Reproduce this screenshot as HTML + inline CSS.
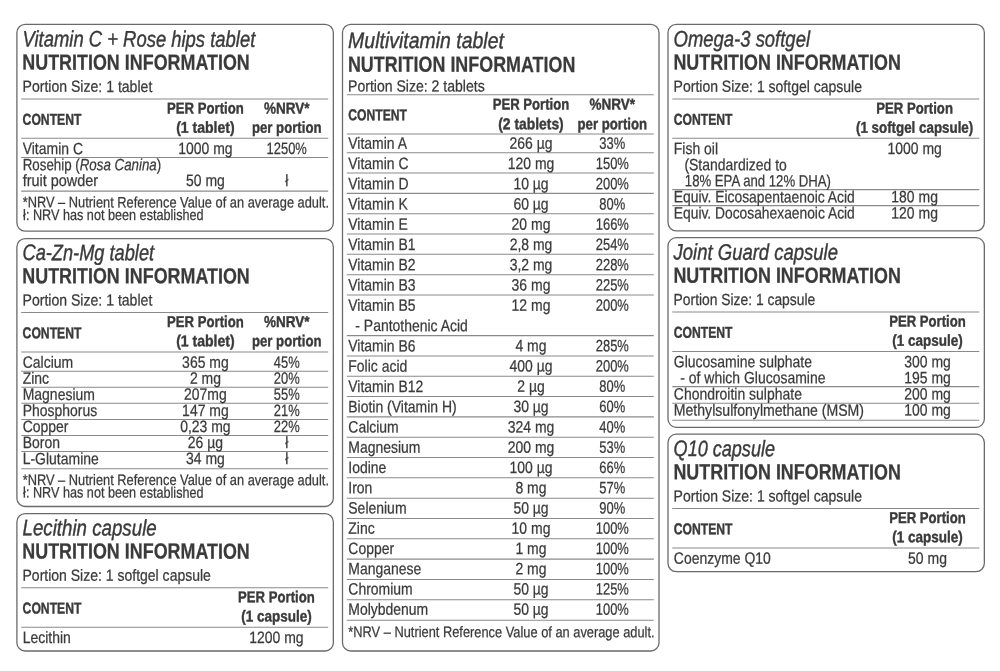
<!DOCTYPE html><html><head><meta charset="utf-8"><title>Nutrition information</title><style>html,body{margin:0;padding:0;background:#fff;overflow:hidden}svg{display:block;will-change:transform}
text{text-rendering:geometricPrecision;font-family:"Liberation Sans",sans-serif;fill:#3a3a3a;stroke:#3a3a3a;stroke-width:0.25px;white-space:pre}
.title{font-size:22.4px;font-weight:400;font-style:italic;stroke-width:0.4px}
.nut{font-size:22.0px;font-weight:700;font-style:normal}
.portion{font-size:16.1px;font-weight:400;font-style:normal}
.hdr{font-size:15.8px;font-weight:700;font-style:normal;stroke-width:0.4px}
.body{font-size:16.4px;font-weight:400;font-style:normal}
.pct{font-size:16.4px;font-weight:400;font-style:normal}
.foot{font-size:15.2px;font-weight:400;font-style:normal}
</style></head><body>
<svg width="1000" height="671" viewBox="0 0 1000 671">
<rect width="1000" height="671" fill="#fff"/>
<g fill="none" stroke="#6a6a6a" stroke-width="1.3">
<rect x="16.90" y="24.40" width="316.45" height="206.70" rx="8.3" ry="8.3"/>
<rect x="16.90" y="238.55" width="316.45" height="267.95" rx="8.3" ry="8.3"/>
<rect x="16.90" y="513.55" width="316.45" height="137.45" rx="8.3" ry="8.3"/>
<rect x="342.50" y="24.40" width="316.50" height="626.60" rx="8.3" ry="8.3"/>
<rect x="668.00" y="24.40" width="316.35" height="206.45" rx="8.3" ry="8.3"/>
<rect x="668.00" y="237.70" width="316.35" height="189.60" rx="8.3" ry="8.3"/>
<rect x="668.00" y="434.20" width="316.35" height="137.40" rx="8.3" ry="8.3"/>
</g>
<g stroke="#8a8a8a" stroke-width="1.05">
<line x1="21.20" y1="98.90" x2="328.20" y2="98.90"/>
<line x1="21.20" y1="138.30" x2="328.20" y2="138.30"/>
<line x1="21.20" y1="157.50" x2="328.20" y2="157.50"/>
<line x1="21.20" y1="191.10" x2="328.20" y2="191.10"/>
<line x1="21.20" y1="312.50" x2="328.20" y2="312.50"/>
<line x1="21.20" y1="351.90" x2="328.20" y2="351.90"/>
<line x1="21.20" y1="371.20" x2="328.20" y2="371.20"/>
<line x1="21.20" y1="387.27" x2="328.20" y2="387.27"/>
<line x1="21.20" y1="403.34" x2="328.20" y2="403.34"/>
<line x1="21.20" y1="419.41" x2="328.20" y2="419.41"/>
<line x1="21.20" y1="435.48" x2="328.20" y2="435.48"/>
<line x1="21.20" y1="451.55" x2="328.20" y2="451.55"/>
<line x1="21.20" y1="468.70" x2="328.20" y2="468.70"/>
<line x1="21.20" y1="587.75" x2="328.20" y2="587.75"/>
<line x1="21.20" y1="627.15" x2="328.20" y2="627.15"/>
<line x1="346.80" y1="94.75" x2="653.80" y2="94.75"/>
<line x1="346.80" y1="134.00" x2="653.80" y2="134.00"/>
<line x1="346.80" y1="152.75" x2="653.80" y2="152.75"/>
<line x1="346.80" y1="173.07" x2="653.80" y2="173.07"/>
<line x1="346.80" y1="193.39" x2="653.80" y2="193.39"/>
<line x1="346.80" y1="213.70" x2="653.80" y2="213.70"/>
<line x1="346.80" y1="234.02" x2="653.80" y2="234.02"/>
<line x1="346.80" y1="254.34" x2="653.80" y2="254.34"/>
<line x1="346.80" y1="274.66" x2="653.80" y2="274.66"/>
<line x1="346.80" y1="294.98" x2="653.80" y2="294.98"/>
<line x1="346.80" y1="335.61" x2="653.80" y2="335.61"/>
<line x1="346.80" y1="355.93" x2="653.80" y2="355.93"/>
<line x1="346.80" y1="376.25" x2="653.80" y2="376.25"/>
<line x1="346.80" y1="396.57" x2="653.80" y2="396.57"/>
<line x1="346.80" y1="416.88" x2="653.80" y2="416.88"/>
<line x1="346.80" y1="437.20" x2="653.80" y2="437.20"/>
<line x1="346.80" y1="457.52" x2="653.80" y2="457.52"/>
<line x1="346.80" y1="477.84" x2="653.80" y2="477.84"/>
<line x1="346.80" y1="498.16" x2="653.80" y2="498.16"/>
<line x1="346.80" y1="518.47" x2="653.80" y2="518.47"/>
<line x1="346.80" y1="538.79" x2="653.80" y2="538.79"/>
<line x1="346.80" y1="559.11" x2="653.80" y2="559.11"/>
<line x1="346.80" y1="579.43" x2="653.80" y2="579.43"/>
<line x1="346.80" y1="599.75" x2="653.80" y2="599.75"/>
<line x1="346.80" y1="620.30" x2="653.80" y2="620.30"/>
<line x1="672.30" y1="98.90" x2="979.30" y2="98.90"/>
<line x1="672.30" y1="138.30" x2="979.30" y2="138.30"/>
<line x1="672.30" y1="189.60" x2="979.30" y2="189.60"/>
<line x1="672.30" y1="205.60" x2="979.30" y2="205.60"/>
<line x1="672.30" y1="312.00" x2="979.30" y2="312.00"/>
<line x1="672.30" y1="351.40" x2="979.30" y2="351.40"/>
<line x1="672.30" y1="386.60" x2="979.30" y2="386.60"/>
<line x1="672.30" y1="403.20" x2="979.30" y2="403.20"/>
<line x1="672.30" y1="420.20" x2="979.30" y2="420.20"/>
<line x1="672.30" y1="508.50" x2="979.30" y2="508.50"/>
<line x1="672.30" y1="547.90" x2="979.30" y2="547.90"/>
</g>
<text id="t0" class="title" text-anchor="start" transform="translate(22.50 46.50) scale(0.8234 1) skewY(0.05)">Vitamin C + Rose hips tablet</text>
<text id="t1" class="nut" text-anchor="start" transform="translate(22.30 69.60) scale(0.8141 1) skewY(0.05)">NUTRITION INFORMATION</text>
<text id="t2" class="portion" text-anchor="start" transform="translate(22.50 91.80) scale(0.8740 1) skewY(0.05)">Portion Size: 1 tablet</text>
<text id="t3" class="hdr" text-anchor="middle" transform="translate(205.40 113.50) scale(0.8312 1) skewY(0.05)">PER Portion</text>
<text id="t4" class="hdr" text-anchor="start" transform="translate(22.60 124.70) scale(0.7700 1) skewY(0.05)">CONTENT</text>
<text id="t5" class="hdr" text-anchor="middle" transform="translate(205.40 132.70) scale(0.8887 1) skewY(0.05)">(1 tablet)</text>
<text id="t6" class="hdr" text-anchor="middle" transform="translate(286.70 113.50) scale(0.8542 1) skewY(0.05)">%NRV*</text>
<text id="t7" class="hdr" text-anchor="middle" transform="translate(286.70 132.70) scale(0.8348 1) skewY(0.05)">per portion</text>
<text id="t8" class="body" text-anchor="start" transform="translate(22.70 154.10) scale(0.8520 1) skewY(0.05)">Vitamin C</text>
<text id="t9" class="body" text-anchor="middle" transform="translate(205.40 154.10) scale(0.8520 1) skewY(0.05)">1000 mg</text>
<text id="t10" class="pct" text-anchor="middle" transform="translate(286.70 154.10) scale(0.7900 1) skewY(0.05)">1250%</text>
<text id="t11" class="body" text-anchor="start" transform="translate(22.70 170.20) scale(0.8128 1) skewY(0.05)">Rosehip (<tspan font-style="italic">Rosa Canina</tspan>)</text>
<text id="t12" class="body" text-anchor="start" transform="translate(22.70 186.00) scale(0.8804 1) skewY(0.05)">fruit powder</text>
<text id="t13" class="body" text-anchor="middle" transform="translate(205.40 186.00) scale(0.8520 1) skewY(0.05)">50 mg</text>
<text id="t14" class="body" text-anchor="middle" transform="translate(286.70 186.00) scale(0.8520 1) skewY(0.05)">ł</text>
<text id="t15" class="foot" text-anchor="start" transform="translate(22.70 207.30) scale(0.8450 1) skewY(0.05)">*NRV – Nutrient Reference Value of an average adult.</text>
<text id="t16" class="foot" text-anchor="start" transform="translate(23.10 219.90) scale(0.8330 1) skewY(0.05)">ł: NRV has not been established</text>
<text id="t17" class="title" text-anchor="start" transform="translate(22.50 260.10) scale(0.8135 1) skewY(0.05)">Ca-Zn-Mg tablet</text>
<text id="t18" class="nut" text-anchor="start" transform="translate(22.30 283.20) scale(0.8141 1) skewY(0.05)">NUTRITION INFORMATION</text>
<text id="t19" class="portion" text-anchor="start" transform="translate(22.50 305.40) scale(0.8740 1) skewY(0.05)">Portion Size: 1 tablet</text>
<text id="t20" class="hdr" text-anchor="middle" transform="translate(205.40 327.10) scale(0.8312 1) skewY(0.05)">PER Portion</text>
<text id="t21" class="hdr" text-anchor="start" transform="translate(22.60 338.30) scale(0.7700 1) skewY(0.05)">CONTENT</text>
<text id="t22" class="hdr" text-anchor="middle" transform="translate(205.40 346.30) scale(0.8887 1) skewY(0.05)">(1 tablet)</text>
<text id="t23" class="hdr" text-anchor="middle" transform="translate(286.70 327.10) scale(0.8542 1) skewY(0.05)">%NRV*</text>
<text id="t24" class="hdr" text-anchor="middle" transform="translate(286.70 346.30) scale(0.8348 1) skewY(0.05)">per portion</text>
<text id="t25" class="body" text-anchor="start" transform="translate(22.70 367.70) scale(0.8520 1) skewY(0.05)">Calcium</text>
<text id="t26" class="body" text-anchor="middle" transform="translate(205.40 367.70) scale(0.8520 1) skewY(0.05)">365 mg</text>
<text id="t27" class="pct" text-anchor="middle" transform="translate(286.70 367.70) scale(0.7900 1) skewY(0.05)">45%</text>
<text id="t28" class="body" text-anchor="start" transform="translate(22.70 383.77) scale(0.8520 1) skewY(0.05)">Zinc</text>
<text id="t29" class="body" text-anchor="middle" transform="translate(205.40 383.77) scale(0.8520 1) skewY(0.05)">2 mg</text>
<text id="t30" class="pct" text-anchor="middle" transform="translate(286.70 383.77) scale(0.7900 1) skewY(0.05)">20%</text>
<text id="t31" class="body" text-anchor="start" transform="translate(22.70 399.84) scale(0.8520 1) skewY(0.05)">Magnesium</text>
<text id="t32" class="body" text-anchor="middle" transform="translate(205.40 399.84) scale(0.8520 1) skewY(0.05)">207mg</text>
<text id="t33" class="pct" text-anchor="middle" transform="translate(286.70 399.84) scale(0.7900 1) skewY(0.05)">55%</text>
<text id="t34" class="body" text-anchor="start" transform="translate(22.70 415.91) scale(0.8520 1) skewY(0.05)">Phosphorus</text>
<text id="t35" class="body" text-anchor="middle" transform="translate(205.40 415.91) scale(0.8520 1) skewY(0.05)">147 mg</text>
<text id="t36" class="pct" text-anchor="middle" transform="translate(286.70 415.91) scale(0.7900 1) skewY(0.05)">21%</text>
<text id="t37" class="body" text-anchor="start" transform="translate(22.70 431.98) scale(0.8520 1) skewY(0.05)">Copper</text>
<text id="t38" class="body" text-anchor="middle" transform="translate(205.40 431.98) scale(0.8520 1) skewY(0.05)">0,23 mg</text>
<text id="t39" class="pct" text-anchor="middle" transform="translate(286.70 431.98) scale(0.7900 1) skewY(0.05)">22%</text>
<text id="t40" class="body" text-anchor="start" transform="translate(22.70 448.05) scale(0.8520 1) skewY(0.05)">Boron</text>
<text id="t41" class="body" text-anchor="middle" transform="translate(205.40 448.05) scale(0.8520 1) skewY(0.05)">26 µg</text>
<text id="t42" class="body" text-anchor="middle" transform="translate(286.70 448.05) scale(0.8520 1) skewY(0.05)">ł</text>
<text id="t43" class="body" text-anchor="start" transform="translate(22.70 464.12) scale(0.8520 1) skewY(0.05)">L-Glutamine</text>
<text id="t44" class="body" text-anchor="middle" transform="translate(205.40 464.12) scale(0.8520 1) skewY(0.05)">34 mg</text>
<text id="t45" class="body" text-anchor="middle" transform="translate(286.70 464.12) scale(0.8520 1) skewY(0.05)">ł</text>
<text id="t46" class="foot" text-anchor="start" transform="translate(22.70 484.90) scale(0.8450 1) skewY(0.05)">*NRV – Nutrient Reference Value of an average adult.</text>
<text id="t47" class="foot" text-anchor="start" transform="translate(23.10 497.50) scale(0.8330 1) skewY(0.05)">ł: NRV has not been established</text>
<text id="t48" class="title" text-anchor="start" transform="translate(22.50 535.35) scale(0.8357 1) skewY(0.05)">Lecithin capsule</text>
<text id="t49" class="nut" text-anchor="start" transform="translate(22.30 558.45) scale(0.8141 1) skewY(0.05)">NUTRITION INFORMATION</text>
<text id="t50" class="portion" text-anchor="start" transform="translate(22.50 580.65) scale(0.8702 1) skewY(0.05)">Portion Size: 1 softgel capsule</text>
<text id="t51" class="hdr" text-anchor="middle" transform="translate(276.40 602.35) scale(0.8312 1) skewY(0.05)">PER Portion</text>
<text id="t52" class="hdr" text-anchor="start" transform="translate(22.60 613.55) scale(0.7700 1) skewY(0.05)">CONTENT</text>
<text id="t53" class="hdr" text-anchor="middle" transform="translate(276.40 621.55) scale(0.8542 1) skewY(0.05)">(1 capsule)</text>
<text id="t54" class="body" text-anchor="start" transform="translate(22.70 642.95) scale(0.8520 1) skewY(0.05)">Lecithin</text>
<text id="t55" class="body" text-anchor="middle" transform="translate(276.40 642.95) scale(0.8520 1) skewY(0.05)">1200 mg</text>
<text id="t56" class="title" text-anchor="start" transform="translate(348.10 48.00) scale(0.8694 1) skewY(0.05)">Multivitamin tablet</text>
<text id="t57" class="nut" text-anchor="start" transform="translate(347.90 71.70) scale(0.8141 1) skewY(0.05)">NUTRITION INFORMATION</text>
<text id="t58" class="portion" text-anchor="start" transform="translate(348.10 91.40) scale(0.8725 1) skewY(0.05)">Portion Size: 2 tablets</text>
<text id="t59" class="hdr" text-anchor="middle" transform="translate(531.00 109.50) scale(0.8312 1) skewY(0.05)">PER Portion</text>
<text id="t60" class="hdr" text-anchor="start" transform="translate(348.20 120.30) scale(0.7700 1) skewY(0.05)">CONTENT</text>
<text id="t61" class="hdr" text-anchor="middle" transform="translate(531.00 129.20) scale(0.8777 1) skewY(0.05)">(2 tablets)</text>
<text id="t62" class="hdr" text-anchor="middle" transform="translate(612.30 109.50) scale(0.8542 1) skewY(0.05)">%NRV*</text>
<text id="t63" class="hdr" text-anchor="middle" transform="translate(612.30 129.20) scale(0.8348 1) skewY(0.05)">per portion</text>
<text id="t64" class="body" text-anchor="start" transform="translate(348.30 148.70) scale(0.8520 1) skewY(0.05)">Vitamin A</text>
<text id="t65" class="body" text-anchor="middle" transform="translate(531.00 148.70) scale(0.8520 1) skewY(0.05)">266 µg</text>
<text id="t66" class="pct" text-anchor="middle" transform="translate(612.30 148.70) scale(0.7900 1) skewY(0.05)">33%</text>
<text id="t67" class="body" text-anchor="start" transform="translate(348.30 168.96) scale(0.8520 1) skewY(0.05)">Vitamin C</text>
<text id="t68" class="body" text-anchor="middle" transform="translate(531.00 168.96) scale(0.8520 1) skewY(0.05)">120 mg</text>
<text id="t69" class="pct" text-anchor="middle" transform="translate(612.30 168.96) scale(0.7900 1) skewY(0.05)">150%</text>
<text id="t70" class="body" text-anchor="start" transform="translate(348.30 189.23) scale(0.8520 1) skewY(0.05)">Vitamin D</text>
<text id="t71" class="body" text-anchor="middle" transform="translate(531.00 189.23) scale(0.8520 1) skewY(0.05)">10 µg</text>
<text id="t72" class="pct" text-anchor="middle" transform="translate(612.30 189.23) scale(0.7900 1) skewY(0.05)">200%</text>
<text id="t73" class="body" text-anchor="start" transform="translate(348.30 209.49) scale(0.8520 1) skewY(0.05)">Vitamin K</text>
<text id="t74" class="body" text-anchor="middle" transform="translate(531.00 209.49) scale(0.8520 1) skewY(0.05)">60 µg</text>
<text id="t75" class="pct" text-anchor="middle" transform="translate(612.30 209.49) scale(0.7900 1) skewY(0.05)">80%</text>
<text id="t76" class="body" text-anchor="start" transform="translate(348.30 229.76) scale(0.8520 1) skewY(0.05)">Vitamin E</text>
<text id="t77" class="body" text-anchor="middle" transform="translate(531.00 229.76) scale(0.8520 1) skewY(0.05)">20 mg</text>
<text id="t78" class="pct" text-anchor="middle" transform="translate(612.30 229.76) scale(0.7900 1) skewY(0.05)">166%</text>
<text id="t79" class="body" text-anchor="start" transform="translate(348.30 250.02) scale(0.8520 1) skewY(0.05)">Vitamin B1</text>
<text id="t80" class="body" text-anchor="middle" transform="translate(531.00 250.02) scale(0.8520 1) skewY(0.05)">2,8 mg</text>
<text id="t81" class="pct" text-anchor="middle" transform="translate(612.30 250.02) scale(0.7900 1) skewY(0.05)">254%</text>
<text id="t82" class="body" text-anchor="start" transform="translate(348.30 270.28) scale(0.8520 1) skewY(0.05)">Vitamin B2</text>
<text id="t83" class="body" text-anchor="middle" transform="translate(531.00 270.28) scale(0.8520 1) skewY(0.05)">3,2 mg</text>
<text id="t84" class="pct" text-anchor="middle" transform="translate(612.30 270.28) scale(0.7900 1) skewY(0.05)">228%</text>
<text id="t85" class="body" text-anchor="start" transform="translate(348.30 290.55) scale(0.8520 1) skewY(0.05)">Vitamin B3</text>
<text id="t86" class="body" text-anchor="middle" transform="translate(531.00 290.55) scale(0.8520 1) skewY(0.05)">36 mg</text>
<text id="t87" class="pct" text-anchor="middle" transform="translate(612.30 290.55) scale(0.7900 1) skewY(0.05)">225%</text>
<text id="t88" class="body" text-anchor="start" transform="translate(348.30 310.81) scale(0.8520 1) skewY(0.05)">Vitamin B5</text>
<text id="t89" class="body" text-anchor="middle" transform="translate(531.00 310.81) scale(0.8520 1) skewY(0.05)">12 mg</text>
<text id="t90" class="pct" text-anchor="middle" transform="translate(612.30 310.81) scale(0.7900 1) skewY(0.05)">200%</text>
<text id="t91" class="body" text-anchor="start" transform="translate(355.30 331.08) scale(0.8520 1) skewY(0.05)">- Pantothenic Acid</text>
<text id="t92" class="body" text-anchor="start" transform="translate(348.30 351.34) scale(0.8520 1) skewY(0.05)">Vitamin B6</text>
<text id="t93" class="body" text-anchor="middle" transform="translate(531.00 351.34) scale(0.8520 1) skewY(0.05)">4 mg</text>
<text id="t94" class="pct" text-anchor="middle" transform="translate(612.30 351.34) scale(0.7900 1) skewY(0.05)">285%</text>
<text id="t95" class="body" text-anchor="start" transform="translate(348.30 371.60) scale(0.8520 1) skewY(0.05)">Folic acid</text>
<text id="t96" class="body" text-anchor="middle" transform="translate(531.00 371.60) scale(0.8520 1) skewY(0.05)">400 µg</text>
<text id="t97" class="pct" text-anchor="middle" transform="translate(612.30 371.60) scale(0.7900 1) skewY(0.05)">200%</text>
<text id="t98" class="body" text-anchor="start" transform="translate(348.30 391.87) scale(0.8520 1) skewY(0.05)">Vitamin B12</text>
<text id="t99" class="body" text-anchor="middle" transform="translate(531.00 391.87) scale(0.8520 1) skewY(0.05)">2 µg</text>
<text id="t100" class="pct" text-anchor="middle" transform="translate(612.30 391.87) scale(0.7900 1) skewY(0.05)">80%</text>
<text id="t101" class="body" text-anchor="start" transform="translate(348.30 412.13) scale(0.8520 1) skewY(0.05)">Biotin (Vitamin H)</text>
<text id="t102" class="body" text-anchor="middle" transform="translate(531.00 412.13) scale(0.8520 1) skewY(0.05)">30 µg</text>
<text id="t103" class="pct" text-anchor="middle" transform="translate(612.30 412.13) scale(0.7900 1) skewY(0.05)">60%</text>
<text id="t104" class="body" text-anchor="start" transform="translate(348.30 432.40) scale(0.8520 1) skewY(0.05)">Calcium</text>
<text id="t105" class="body" text-anchor="middle" transform="translate(531.00 432.40) scale(0.8520 1) skewY(0.05)">324 mg</text>
<text id="t106" class="pct" text-anchor="middle" transform="translate(612.30 432.40) scale(0.7900 1) skewY(0.05)">40%</text>
<text id="t107" class="body" text-anchor="start" transform="translate(348.30 452.66) scale(0.8520 1) skewY(0.05)">Magnesium</text>
<text id="t108" class="body" text-anchor="middle" transform="translate(531.00 452.66) scale(0.8520 1) skewY(0.05)">200 mg</text>
<text id="t109" class="pct" text-anchor="middle" transform="translate(612.30 452.66) scale(0.7900 1) skewY(0.05)">53%</text>
<text id="t110" class="body" text-anchor="start" transform="translate(348.30 472.92) scale(0.8520 1) skewY(0.05)">Iodine</text>
<text id="t111" class="body" text-anchor="middle" transform="translate(531.00 472.92) scale(0.8520 1) skewY(0.05)">100 µg</text>
<text id="t112" class="pct" text-anchor="middle" transform="translate(612.30 472.92) scale(0.7900 1) skewY(0.05)">66%</text>
<text id="t113" class="body" text-anchor="start" transform="translate(348.30 493.19) scale(0.8520 1) skewY(0.05)">Iron</text>
<text id="t114" class="body" text-anchor="middle" transform="translate(531.00 493.19) scale(0.8520 1) skewY(0.05)">8 mg</text>
<text id="t115" class="pct" text-anchor="middle" transform="translate(612.30 493.19) scale(0.7900 1) skewY(0.05)">57%</text>
<text id="t116" class="body" text-anchor="start" transform="translate(348.30 513.45) scale(0.8520 1) skewY(0.05)">Selenium</text>
<text id="t117" class="body" text-anchor="middle" transform="translate(531.00 513.45) scale(0.8520 1) skewY(0.05)">50 µg</text>
<text id="t118" class="pct" text-anchor="middle" transform="translate(612.30 513.45) scale(0.7900 1) skewY(0.05)">90%</text>
<text id="t119" class="body" text-anchor="start" transform="translate(348.30 533.72) scale(0.8520 1) skewY(0.05)">Zinc</text>
<text id="t120" class="body" text-anchor="middle" transform="translate(531.00 533.72) scale(0.8520 1) skewY(0.05)">10 mg</text>
<text id="t121" class="pct" text-anchor="middle" transform="translate(612.30 533.72) scale(0.7900 1) skewY(0.05)">100%</text>
<text id="t122" class="body" text-anchor="start" transform="translate(348.30 553.98) scale(0.8520 1) skewY(0.05)">Copper</text>
<text id="t123" class="body" text-anchor="middle" transform="translate(531.00 553.98) scale(0.8520 1) skewY(0.05)">1 mg</text>
<text id="t124" class="pct" text-anchor="middle" transform="translate(612.30 553.98) scale(0.7900 1) skewY(0.05)">100%</text>
<text id="t125" class="body" text-anchor="start" transform="translate(348.30 574.24) scale(0.8520 1) skewY(0.05)">Manganese</text>
<text id="t126" class="body" text-anchor="middle" transform="translate(531.00 574.24) scale(0.8520 1) skewY(0.05)">2 mg</text>
<text id="t127" class="pct" text-anchor="middle" transform="translate(612.30 574.24) scale(0.7900 1) skewY(0.05)">100%</text>
<text id="t128" class="body" text-anchor="start" transform="translate(348.30 594.51) scale(0.8520 1) skewY(0.05)">Chromium</text>
<text id="t129" class="body" text-anchor="middle" transform="translate(531.00 594.51) scale(0.8520 1) skewY(0.05)">50 µg</text>
<text id="t130" class="pct" text-anchor="middle" transform="translate(612.30 594.51) scale(0.7900 1) skewY(0.05)">125%</text>
<text id="t131" class="body" text-anchor="start" transform="translate(348.30 614.77) scale(0.8520 1) skewY(0.05)">Molybdenum</text>
<text id="t132" class="body" text-anchor="middle" transform="translate(531.00 614.77) scale(0.8520 1) skewY(0.05)">50 µg</text>
<text id="t133" class="pct" text-anchor="middle" transform="translate(612.30 614.77) scale(0.7900 1) skewY(0.05)">100%</text>
<text id="t134" class="foot" text-anchor="start" transform="translate(348.30 637.00) scale(0.8450 1) skewY(0.05)">*NRV – Nutrient Reference Value of an average adult.</text>
<text id="t135" class="title" text-anchor="start" transform="translate(673.60 46.50) scale(0.8240 1) skewY(0.05)">Omega-3 softgel</text>
<text id="t136" class="nut" text-anchor="start" transform="translate(673.40 69.60) scale(0.8141 1) skewY(0.05)">NUTRITION INFORMATION</text>
<text id="t137" class="portion" text-anchor="start" transform="translate(673.60 91.80) scale(0.8702 1) skewY(0.05)">Portion Size: 1 softgel capsule</text>
<text id="t138" class="hdr" text-anchor="middle" transform="translate(914.60 113.50) scale(0.8312 1) skewY(0.05)">PER Portion</text>
<text id="t139" class="hdr" text-anchor="start" transform="translate(673.70 124.70) scale(0.7700 1) skewY(0.05)">CONTENT</text>
<text id="t140" class="hdr" text-anchor="middle" transform="translate(914.60 132.70) scale(0.8457 1) skewY(0.05)">(1 softgel capsule)</text>
<text id="t141" class="body" text-anchor="start" transform="translate(673.80 154.10) scale(0.8520 1) skewY(0.05)">Fish oil</text>
<text id="t142" class="body" text-anchor="middle" transform="translate(914.60 154.10) scale(0.8520 1) skewY(0.05)">1000 mg</text>
<text id="t143" class="body" text-anchor="start" transform="translate(684.40 170.30) scale(0.8520 1) skewY(0.05)">(Standardized to</text>
<text id="t144" class="body" text-anchor="start" transform="translate(684.80 186.30) scale(0.8036 1) skewY(0.05)">18% EPA and 12% DHA)</text>
<text id="t145" class="body" text-anchor="start" transform="translate(673.80 202.30) scale(0.8465 1) skewY(0.05)">Equiv. Eicosapentaenoic Acid</text>
<text id="t146" class="body" text-anchor="middle" transform="translate(914.60 202.30) scale(0.8520 1) skewY(0.05)">180 mg</text>
<text id="t147" class="body" text-anchor="start" transform="translate(673.80 218.40) scale(0.8429 1) skewY(0.05)">Equiv. Docosahexaenoic Acid</text>
<text id="t148" class="body" text-anchor="middle" transform="translate(914.60 218.40) scale(0.8520 1) skewY(0.05)">120 mg</text>
<text id="t149" class="title" text-anchor="start" transform="translate(673.60 259.60) scale(0.8255 1) skewY(0.05)">Joint Guard capsule</text>
<text id="t150" class="nut" text-anchor="start" transform="translate(673.40 282.70) scale(0.8141 1) skewY(0.05)">NUTRITION INFORMATION</text>
<text id="t151" class="portion" text-anchor="start" transform="translate(673.60 304.90) scale(0.8602 1) skewY(0.05)">Portion Size: 1 capsule</text>
<text id="t152" class="hdr" text-anchor="middle" transform="translate(927.50 326.60) scale(0.8312 1) skewY(0.05)">PER Portion</text>
<text id="t153" class="hdr" text-anchor="start" transform="translate(673.70 337.80) scale(0.7700 1) skewY(0.05)">CONTENT</text>
<text id="t154" class="hdr" text-anchor="middle" transform="translate(927.50 345.80) scale(0.8542 1) skewY(0.05)">(1 capsule)</text>
<text id="t155" class="body" text-anchor="start" transform="translate(673.80 367.20) scale(0.8520 1) skewY(0.05)">Glucosamine sulphate</text>
<text id="t156" class="body" text-anchor="middle" transform="translate(927.50 367.20) scale(0.8520 1) skewY(0.05)">300 mg</text>
<text id="t157" class="body" text-anchor="start" transform="translate(680.30 383.20) scale(0.8520 1) skewY(0.05)">- of which Glucosamine</text>
<text id="t158" class="body" text-anchor="middle" transform="translate(927.50 383.20) scale(0.8520 1) skewY(0.05)">195 mg</text>
<text id="t159" class="body" text-anchor="start" transform="translate(673.80 399.40) scale(0.8520 1) skewY(0.05)">Chondroitin sulphate</text>
<text id="t160" class="body" text-anchor="middle" transform="translate(927.50 399.40) scale(0.8520 1) skewY(0.05)">200 mg</text>
<text id="t161" class="body" text-anchor="start" transform="translate(673.80 415.60) scale(0.8592 1) skewY(0.05)">Methylsulfonylmethane (MSM)</text>
<text id="t162" class="body" text-anchor="middle" transform="translate(927.50 415.60) scale(0.8520 1) skewY(0.05)">100 mg</text>
<text id="t163" class="title" text-anchor="start" transform="translate(673.60 456.10) scale(0.8066 1) skewY(0.05)">Q10 capsule</text>
<text id="t164" class="nut" text-anchor="start" transform="translate(673.40 479.20) scale(0.8141 1) skewY(0.05)">NUTRITION INFORMATION</text>
<text id="t165" class="portion" text-anchor="start" transform="translate(673.60 501.40) scale(0.8702 1) skewY(0.05)">Portion Size: 1 softgel capsule</text>
<text id="t166" class="hdr" text-anchor="middle" transform="translate(927.50 523.10) scale(0.8312 1) skewY(0.05)">PER Portion</text>
<text id="t167" class="hdr" text-anchor="start" transform="translate(673.70 534.30) scale(0.7700 1) skewY(0.05)">CONTENT</text>
<text id="t168" class="hdr" text-anchor="middle" transform="translate(927.50 542.30) scale(0.8542 1) skewY(0.05)">(1 capsule)</text>
<text id="t169" class="body" text-anchor="start" transform="translate(673.80 563.70) scale(0.8520 1) skewY(0.05)">Coenzyme Q10</text>
<text id="t170" class="body" text-anchor="middle" transform="translate(927.50 563.70) scale(0.8520 1) skewY(0.05)">50 mg</text>
</svg></body></html>
